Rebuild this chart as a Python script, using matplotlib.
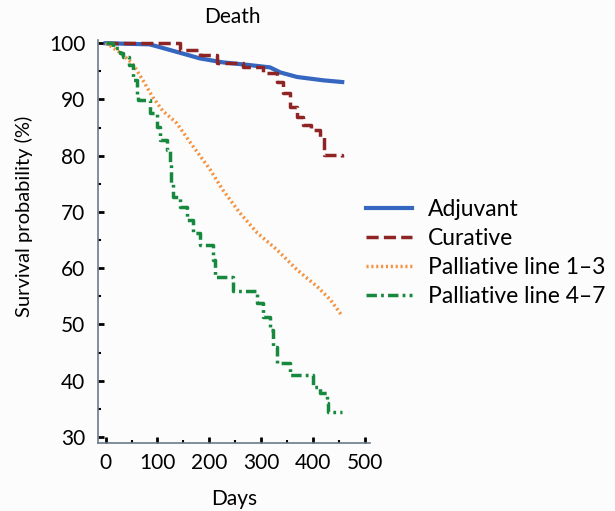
import numpy as np
import matplotlib.pyplot as plt
from matplotlib.ticker import MultipleLocator

plt.rcParams['font.family'] = ['Lato', 'DejaVu Sans']

# Kaplan-Meier curves (days, survival %)
adj_days = [0, 85, 124, 182, 226, 279, 317, 337, 369, 420, 456]
adj_surv = [100, 99.8, 98.8, 97.3, 96.6, 96.1, 95.7, 94.8, 94.0, 93.4, 93.1]

cur_days = [0, 143, 182, 215, 265, 304, 331, 342, 356, 369, 381, 395, 414, 420, 456]
cur_surv = [100, 98.8, 97.9, 96.4, 95.7, 94.7, 93.1, 91.1, 88.6, 86.9, 85.4, 84.5, 83.3, 80.1, 79.8]

pal13_days = [0, 8, 27, 52, 72, 91, 110, 137, 162, 201, 226, 259, 292, 331, 369, 408, 433, 456]
pal13_surv = [100, 99.6, 98.4, 96.4, 93.4, 90.4, 88.0, 85.8, 82.5, 77.6, 73.9, 69.8, 66.3, 63.2, 59.7, 56.7, 54.4, 51.5]

pal47_days = [0, 14, 27, 33, 46, 52, 60, 62, 85, 99, 104, 118, 124, 127, 130, 143, 157, 168, 182,
              207, 211, 246, 292, 304, 317, 323, 331, 356, 400, 414, 427, 429, 456]
pal47_surv = [100, 99.2, 98.2, 97.5, 96.1, 93.4, 90.4, 89.9, 87.6, 85.1, 82.8, 81.0, 78.7, 75.1,
              72.6, 70.9, 68.6, 66.3, 64.1, 61.5, 58.4, 56.0, 53.8, 51.3, 49.0, 46.0, 43.2,
              41.0, 38.9, 37.8, 36.0, 34.5, 34.5]

fig = plt.figure(figsize=(6.15, 5.11), dpi=100, facecolor='#fcfcfd')
ax = fig.add_axes([0.159, 0.133, 0.443, 0.789])
ax.set_facecolor('#fcfcfd')

ax.plot(adj_days, adj_surv, color='#3566c0', lw=3, label='Adjuvant')
ax.plot(cur_days, cur_surv, drawstyle='steps-post', color='#8e2424', lw=2.5, ls=(0, (3.5, 1.5)), label='Curative')
ax.plot(pal13_days, pal13_surv, color='#f5923e', lw=2.5, ls=(0, (0.6, 0.8)), label='Palliative line 1–3')
ax.plot(pal47_days, pal47_surv, drawstyle='steps-post', color='#17893f', lw=2.5, ls=(0, (3, 1.2, 0.8, 1.2)), label='Palliative line 4–7')

ax.set_xlim(-15, 510)
ax.set_ylim(28.9, 100.6)
ax.xaxis.set_major_locator(MultipleLocator(100))
ax.xaxis.set_minor_locator(MultipleLocator(50))
ax.yaxis.set_major_locator(MultipleLocator(10))
ax.yaxis.set_minor_locator(MultipleLocator(5))
ax.tick_params(which='major', direction='in', length=4, width=2, labelsize=15, color='black')
ax.tick_params(axis='y', which='major', pad=9)
ax.tick_params(axis='x', which='major', pad=7)
ax.tick_params(which='minor', direction='in', length=2, width=1.5, color='black')
for s in ['top', 'right']:
    ax.spines[s].set_visible(False)
for s in ['left', 'bottom']:
    ax.spines[s].set_color('#6a7c8a')
    ax.spines[s].set_linewidth(1.2)

ax.set_xlabel('Days', fontsize=15, labelpad=12)
fig.text(24 / 615, 1 - 216 / 511, 'Survival probability (%)', fontsize=14.5,
         rotation=90, ha='center', va='center')
fig.text(232 / 615, 1 - 17 / 511, 'Death', fontsize=15, ha='center', va='center')

fig.legend(*ax.get_legend_handles_labels(), loc='center left',
           bbox_to_anchor=(366 / 615, 1 - 253 / 511), frameon=False, fontsize=16.5,
           handlelength=2.0, labelspacing=0.35, handletextpad=0.7,
           borderpad=0, borderaxespad=0)

fig.savefig('out.png', dpi=100, facecolor=fig.get_facecolor())
